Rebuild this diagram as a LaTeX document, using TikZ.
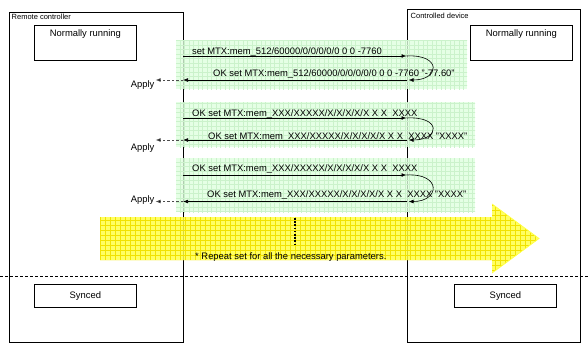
\documentclass[tikz,border=0pt]{standalone}
\usepackage{fontspec}
\setmainfont{Liberation Sans}
\usetikzlibrary{arrows.meta}
\definecolor{gfill}{HTML}{DEFFDE}
\definecolor{ggrid}{HTML}{CBF2CB}
\definecolor{yfill}{HTML}{FFFF48}
\definecolor{ygrid}{HTML}{F2E200}
\begin{document}
\begin{tikzpicture}[x=1pt,y=-1pt,
  font=\fontsize{9.4}{10}\selectfont,
  frame/.style={draw=black, line width=0.8pt},
  statebox/.style={draw=black, line width=0.8pt, minimum width=102pt, inner sep=0pt, anchor=north west},
  boxtext/.style={anchor=north, inner sep=0pt},
  small/.style={font=\fontsize{7.5}{8}\selectfont, inner sep=0pt, anchor=base west},
  msgtext/.style={inner sep=0pt, anchor=base west},
  tip/.style={-{Latex[length=5pt,width=3.8pt]}},
  msg/.style={draw=black, line width=0.6pt, tip},
  applyarr/.style={draw=black!70, dash pattern=on 2.5pt off 2pt, line width=0.75pt, -{Latex[length=5pt,width=3.8pt,fill=black]}},
  band/.style={fill=gfill, fill opacity=0.8, draw=none},
]
\useasboundingbox (0,0) rectangle (588,349);

% frames
\node[frame, statebox, minimum width=174pt, minimum height=330pt] (rc) at (9,12) {};
\node[frame, statebox, minimum width=173.5pt, minimum height=333pt] (cd) at (406.5,9) {};
\node[small] (rclab) at (11.5,19.3) {Remote controller};
\node[small] (cdlab) at (410.5,18.5) {Controlled device};

% state boxes
\node[statebox, minimum height=35pt] (nr1) at (34,25) {};
\node[boxtext] (nr1t) at ([yshift=-4pt]nr1.north) {Normally running};
\node[statebox, minimum height=35pt] (nr2) at (470,25) {};
\node[boxtext] (nr2t) at ([yshift=-4pt]nr2.north) {Normally running};
\node[statebox, minimum height=23pt] (sy1) at (34,284) {Synced};
\node[statebox, minimum height=23pt] (sy2) at (454,284) {Synced};

% green bands
\foreach \ya/\yb/\xb in {40/89/467, 102/147/475, 158/212/475}{
  \fill[band] (176,\ya) rectangle (\xb,\yb);
  \begin{scope}
    \clip (176,\ya) rectangle (\xb,\yb);
    \draw[ggrid, line width=0.3pt, step=4.5pt] (172,\ya-5) grid (\xb+5,\yb+5);
  \end{scope}
}

% yellow arrow
\fill[yfill, fill opacity=0.85] (100,217) -- (492,217) -- (492,204) -- (539,238.5) -- (492,273) -- (492,260) -- (100,260) -- cycle;
\begin{scope}
  \clip (100,217) -- (492,217) -- (492,204) -- (539,238.5) -- (492,273) -- (492,260) -- (100,260) -- cycle;
  \draw[ygrid, line width=0.35pt, step=5pt] (95,200) grid (545,280);
\end{scope}
\draw[yfill, line width=0.8pt, line join=miter] (492,204) -- (539,238.5) -- (492,273);

% dotted vertical
\coordinate (dt) at (295,218);
\coordinate (db) at (295,245);
\draw[line width=1.8pt, dash pattern=on 1.6pt off 1.6pt] (dt) -- (db);
\node[msgtext] (rep) at (195,259) {* Repeat set for all the necessary parameters.};

% dashed separator
\coordinate (sepl) at (0,276);
\coordinate (sepr) at (588,276);
\draw[black, line width=0.7pt, dash pattern=on 3pt off 2pt] (sepl) -- (sepr);

% lifeline coordinates
\coordinate (l1) at (183,56);   \coordinate (r1) at (406.5,56);
\coordinate (l1b) at (183,80);  \coordinate (r1b) at (406.5,80);
\coordinate (l2) at (183,118);  \coordinate (r2) at (406.5,118);
\coordinate (l2b) at (183,140); \coordinate (r2b) at (406.5,140);
\coordinate (l3) at (183,175);  \coordinate (r3) at (406.5,175);
\coordinate (l3b) at (183,201.5); \coordinate (r3b) at (406.5,201.5);
\coordinate (a1) at (155.5,80);
\coordinate (a2) at (155.5,140);
\coordinate (a3) at (155.5,201.5);

% group 1
\draw[msg] (l1) -- (r1);
\draw[msg] (r1) .. controls (442,54) and (440,80) .. ([xshift=2pt]r1b);
\draw[msg] (r1b) -- (l1b);
\draw[applyarr] (l1b) -- (a1);
\node[msgtext] (m1) at (192,54) {set MTX:mem\_512/60000/0/0/0/0/0 0 0 -7760};
\node[msgtext] (m1b) at (213,76) {OK set MTX:mem\_512/60000/0/0/0/0/0 0 0 -7760 "-77.60"};
\node[inner sep=0pt, anchor=base east] (ap1) at (154.5,87) {Apply};

% group 2
\draw[msg] (l2) -- (r2);
\draw[msg] (r2) .. controls (442,116) and (440,140) .. ([xshift=2pt]r2b);
\draw[msg] (r2b) -- (l2b);
\draw[applyarr] (l2b) -- (a2);
\node[msgtext] (m2) at (192,116.5) {OK set MTX:mem\_XXX/XXXXX/X/X/X/X/X X X\ \ XXXX};
\node[msgtext] (m2b) at (208,139) {OK set MTX:mem\_XXX/XXXXX/X/X/X/X/X X X\ \ XXXX "XXXX"};
\node[inner sep=0pt, anchor=base east] (ap2) at (154.5,150.5) {Apply};

% group 3
\draw[msg] (l3) -- (r3);
\draw[msg] (r3) .. controls (442,173) and (440,201.5) .. ([xshift=2pt]r3b);
\draw[msg] (r3b) -- (l3b);
\draw[applyarr] (l3b) -- (a3);
\node[msgtext] (m3) at (192,171) {OK set MTX:mem\_XXX/XXXXX/X/X/X/X/X X X\ \ XXXX};
\node[msgtext] (m3b) at (207,197) {OK set MTX:mem\_XXX/XXXXX/X/X/X/X/X X X\ \ XXXX "XXXX"};
\node[inner sep=0pt, anchor=base east] (ap3) at (154.5,202.7) {Apply};
\end{tikzpicture}
\end{document}
